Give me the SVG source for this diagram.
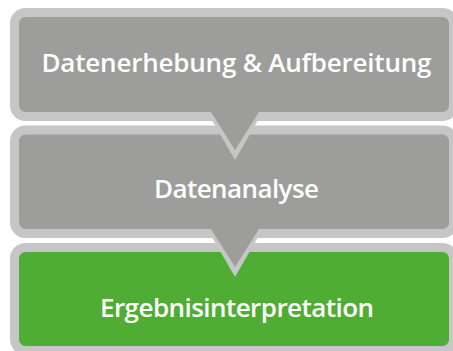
<svg xmlns="http://www.w3.org/2000/svg" width="453" height="351" viewBox="0 0 453 351">
<style>
.box{stroke:#c6c6c6;stroke-width:9}
.gray{fill:#9d9d9c}
.green{fill:#4fad33}
.rim{fill:#c6c6c6}
.lbl{font-family:"Open Sans","Noto Sans",sans-serif;font-weight:600;font-size:26px;fill:#ffffff;text-anchor:middle}
</style>
<rect width="453" height="351" fill="#ffffff"/>
<g id="node1">
<rect class="box gray" x="14.5" y="12.5" width="439" height="104" rx="11"/>
<text class="lbl" x="236.5" y="72" textLength="390">Datenerhebung &amp; Aufbereitung</text>
</g>
<g id="node2">
<rect class="box gray" x="14.5" y="130" width="439" height="103.5" rx="11"/>
<text class="lbl" x="236.5" y="198" textLength="165">Datenanalyse</text>
</g>
<g id="node3">
<rect class="box green" x="14.5" y="247.5" width="439" height="103" rx="11"/>
<text class="lbl" x="237" y="317" textLength="274">Ergebnisinterpretation</text>
</g>
<g id="connectors">
<polygon class="rim" points="212.5,121 235,160 257.5,121"/>
<polygon class="gray" points="211,112 235,150 259,112"/>
<polygon class="rim" points="212.5,238 235,277 257.5,238"/>
<polygon class="gray" points="211,229 235,267 259,229"/>
</g>
</svg>
